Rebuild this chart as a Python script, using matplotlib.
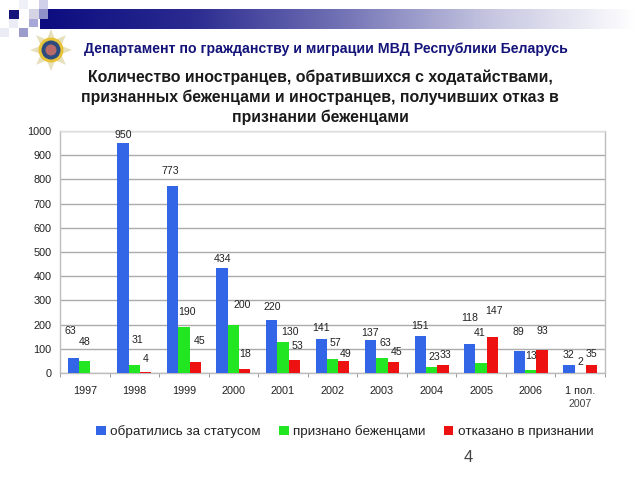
import numpy as np
import matplotlib
matplotlib.use("Agg")
import matplotlib.pyplot as plt
from matplotlib.patches import Rectangle, Polygon, Circle
from matplotlib.colors import LinearSegmentedColormap

plt.rcParams['font.family'] = ['Liberation Sans', 'DejaVu Sans']

categories = ['1997', '1998', '1999', '2000', '2001', '2002', '2003', '2004', '2005', '2006', '1 пол.']
applied = [63, 950, 773, 434, 220, 141, 137, 151, 118, 89, 32]
recognized = [48, 31, 190, 200, 130, 57, 63, 23, 41, 13, 2]
refused = [np.nan, 4, 45, 18, 53, 49, 45, 33, 147, 93, 35]
series_names = ['обратились за статусом', 'признано беженцами', 'отказано в признании']
colors = ['#3366E6', '#22E622', '#EE1111']
yticks = list(range(0, 1001, 100))

# label offsets in pixels from the top of each bar
off_applied = [(-3.5, 27), (0, 8), (-2, 15), (0, 9), (1, 13), (0, 11), (-1, 7), (0, 10.5), (0, 26), (-1, 19.5), (0, 10)]
off_recognized = [(0, 19), (3, 25), (3, 15), (9, 20), (7, 10), (2.5, 16), (3, 15), (2.4, 10), (-2, 30), (0, 14), (0, 10.5)]
off_refused = [None, (0, 13), (4, 21), (0, 15), (3, 14), (2, 7), (3, 10), (3, 10), (2, 26), (0, 19.5), (0, 10.5)]

fig = plt.figure(figsize=(6.4, 4.8), dpi=100, facecolor='white')

# page decoration in pixel coordinates
bg = fig.add_axes([0, 0, 1, 1], zorder=0)
bg.set_xlim(0, 640)
bg.set_ylim(480, 0)
bg.axis('off')
cmap = LinearSegmentedColormap.from_list('band', ['#0C0C80', '#2A2A90', '#7070B4', '#C4C4E0', '#FFFFFF'])
bg.imshow(np.linspace(0, 1, 256)[None, :], extent=[40, 636, 29, 9], cmap=cmap, aspect='auto', zorder=1)
bg.set_xlim(0, 640)
bg.set_ylim(480, 0)
for x, y, w, h, c in [(9, 10, 10, 9, '#14147A'), (29, 9, 10, 10, '#D4D4E4'), (39, 0, 9, 9, '#D0D0EA'),
                      (39, 9, 9, 10, '#9090C8'), (29, 19, 9, 8, '#A8A8D8'), (19, 28, 9, 9, '#9C9CCC'),
                      (9, 19, 9, 9, '#ECECF6'), (0, 28, 9, 9, '#ECECF6'), (19, 0, 9, 9, '#F0F0F8')]:
    bg.add_patch(Rectangle((x, y), w, h, color=c, lw=0, zorder=2))
cx, cy = 51, 50
ang = np.linspace(0, 2 * np.pi, 17)[:-1] - np.pi / 2
rad = np.where(np.arange(16) % 2 == 0, 21, 11)
bg.add_patch(Polygon(np.c_[cx + rad * np.cos(ang), cy + rad * np.sin(ang)], color='#E6E0BC', lw=0, zorder=2))
bg.add_patch(Circle((cx, cy), 12.5, color='#E8C33A', lw=0, zorder=3))
bg.add_patch(Circle((cx, cy), 9.5, color='#2C4C80', lw=0, zorder=4))
bg.add_patch(Circle((cx, cy), 5.5, color='#B86A6A', lw=0, zorder=5))

def ftext(x, y, s, **kw):
    kw.setdefault('ha', 'center')
    kw.setdefault('va', 'center')
    fig.text(x / 640, 1 - y / 480, s, **kw)

ftext(84, 49, 'Департамент по гражданству и миграции МВД Республики Беларусь', ha='left',
      color='#14147A', fontsize=10.2, fontweight='bold')
ftext(320, 77, 'Количество иностранцев, обратившихся с ходатайствами,', color='#1A1A1A', fontsize=11.4, fontweight='bold')
ftext(320, 97, 'признанных беженцами и иностранцев, получивших отказ в', color='#1A1A1A', fontsize=11.4, fontweight='bold')
ftext(320, 117, 'признании беженцами', color='#1A1A1A', fontsize=11.4, fontweight='bold')
ftext(468, 458, '4', color='#444444', fontsize=12)
ftext(580, 404, '2007', color='#444444', fontsize=7.6)

# chart
ax = fig.add_axes([60 / 640, 1 - 373 / 480, 545 / 640, 242 / 480], zorder=2)
ax.patch.set_alpha(0)
xs = np.arange(len(categories))
w = 0.228
all_series = [applied, recognized, refused]
all_off = [off_applied, off_recognized, off_refused]
for j, (vals, name, col, offs) in enumerate(zip(all_series, series_names, colors, all_off)):
    px = xs + (j - 1) * w
    ax.bar(px, vals, width=w, color=col, label=name, zorder=3)
    for xp, v, off in zip(px, vals, offs):
        if off is None or np.isnan(v):
            continue
        ax.annotate(str(v), (xp, v), xytext=off, textcoords='offset pixels', ha='center', va='center',
                    fontsize=7.6, color='#222222', zorder=5, annotation_clip=False)

ax.set_xlim(-0.5, len(categories) - 0.5)
ax.set_ylim(0, 1000)
ax.set_yticks(yticks)
ax.set_xticks(xs, categories)
ax.set_xticks(np.arange(-0.5, len(categories)), minor=True)
ax.tick_params(axis='x', which='major', length=0, pad=9.5, labelsize=7.8, labelcolor='#222222')
ax.tick_params(axis='x', which='minor', length=3, color='#999999', width=0.7)
ax.tick_params(axis='y', length=0, pad=6, labelsize=7.8, labelcolor='#222222')
ax.grid(axis='y', color='#ABABAB', lw=1.0, zorder=1)
ax.set_axisbelow(True)
for s in ['top', 'left', 'right', 'bottom']:
    ax.spines[s].set_color('#BDBDBD')
    ax.spines[s].set_linewidth(1.0)
ax.spines['top'].set_color('#DDDDDD')

ax.legend(loc='center', bbox_to_anchor=(345 / 640, 1 - 432 / 480), bbox_transform=fig.transFigure,
          ncol=3, frameon=False, fontsize=9.7, handlelength=0.7, handleheight=0.7, handletextpad=0.35,
          columnspacing=1.35, labelcolor='#222222')

fig.savefig('out.png', dpi=100)
